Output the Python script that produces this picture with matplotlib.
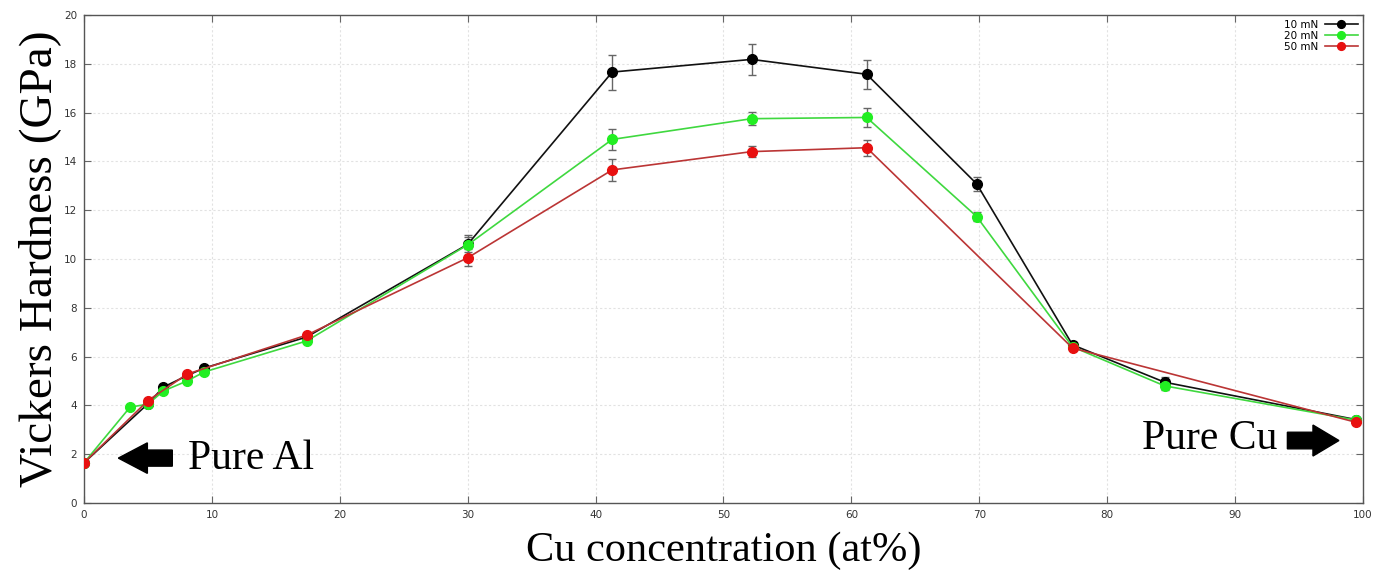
import matplotlib
matplotlib.use("Agg")
import matplotlib.pyplot as plt
from matplotlib.patches import FancyArrow

# Cu concentration (at%) and Vickers hardness (GPa) per load
x_10 = [0, 5.0, 6.2, 8.05, 9.4, 17.4, 30.0, 41.3, 52.2, 61.2, 69.8, 77.3, 84.5, 99.45]
h_10 = [1.65, 4.07, 4.75, 5.22, 5.53, 6.80, 10.60, 17.66, 18.18, 17.57, 13.08, 6.48, 4.95, 3.42]
e_10 = [0.05, 0.08, 0.08, 0.08, 0.08, 0.08, 0.30, 0.72, 0.65, 0.60, 0.30, 0.10, 0.20, 0.08]

x_20 = [0, 3.6, 5.0, 6.2, 8.05, 9.4, 17.4, 30.0, 41.3, 52.2, 61.2, 69.8, 77.3, 84.5, 99.45]
h_20 = [1.65, 3.93, 4.05, 4.59, 5.00, 5.37, 6.64, 10.58, 14.90, 15.75, 15.80, 11.74, 6.40, 4.80, 3.40]
e_20 = [0.05, 0.08, 0.08, 0.08, 0.08, 0.08, 0.08, 0.40, 0.43, 0.27, 0.40, 0.20, 0.10, 0.15, 0.08]

x_50 = [0, 5.0, 8.05, 17.4, 30.0, 41.3, 52.2, 61.2, 77.3, 99.45]
h_50 = [1.65, 4.20, 5.28, 6.88, 10.05, 13.65, 14.40, 14.56, 6.35, 3.31]
e_50 = [0.05, 0.08, 0.08, 0.08, 0.35, 0.45, 0.22, 0.33, 0.08, 0.08]

series = [
    ("10 mN", x_10, h_10, e_10, "#111111", "#000000"),
    ("20 mN", x_20, h_20, e_20, "#3fd83f", "#22ee22"),
    ("50 mN", x_50, h_50, e_50, "#bb3535", "#e81010"),
]

fig = plt.figure(figsize=(13.85, 5.74), dpi=100)
ax = fig.add_axes([0.0607, 0.1237, 0.9233, 0.8502])

for lab, xs, ys, es, lc, mc in series:
    ax.errorbar(xs, ys, yerr=es, fmt="none", ecolor="#666666", elinewidth=1,
                capsize=3, capthick=1, zorder=2)
    ax.plot(xs, ys, "-o", color=lc, lw=1.2, markersize=7, markerfacecolor=mc,
            markeredgecolor=mc, label=lab, zorder=3)

ax.set_xlim(0, 100)
ax.set_ylim(0, 20)
ax.set_xticks(range(0, 101, 10))
ax.set_yticks(range(0, 21, 2))
ax.grid(True, color="#e2e2e2", linestyle=(0, (2, 2)), lw=0.8)
ax.set_axisbelow(True)
ax.tick_params(direction="in", top=True, right=True, length=5, width=0.8,
               color="#666666", labelsize=7.5, labelcolor="#333333", pad=5)
for s in ax.spines.values():
    s.set_color("#555555")
    s.set_linewidth(1)

ax.set_xlabel("Cu concentration (at%)", family="Liberation Serif", fontsize=30.5,
              labelpad=8)
ax.set_ylabel("Vickers Hardness (GPa)", family="Liberation Serif", fontsize=34,
              labelpad=2)

leg = ax.legend(loc="upper right", frameon=False, markerfirst=False, fontsize=7.5,
                handlelength=3.2, labelspacing=0.1, borderaxespad=0.05,
                handletextpad=0.6, markerscale=0.8)

# block arrows with labels
ax.add_patch(FancyArrow(6.9, 1.84, -1.95, 0, width=0.66, head_width=1.25,
                        head_length=2.27, length_includes_head=False,
                        color="black", zorder=4))
ax.text(8.1, 1.39, "Pure Al", family="Liberation Serif", fontsize=30,
        ha="left", va="baseline")
ax.add_patch(FancyArrow(94.1, 2.56, 2.0, 0, width=0.68, head_width=1.27,
                        head_length=2.03, length_includes_head=False,
                        color="black", zorder=4))
ax.text(82.7, 2.21, "Pure Cu", family="Liberation Serif", fontsize=30,
        ha="left", va="baseline")

fig.savefig("out.png", dpi=100)
